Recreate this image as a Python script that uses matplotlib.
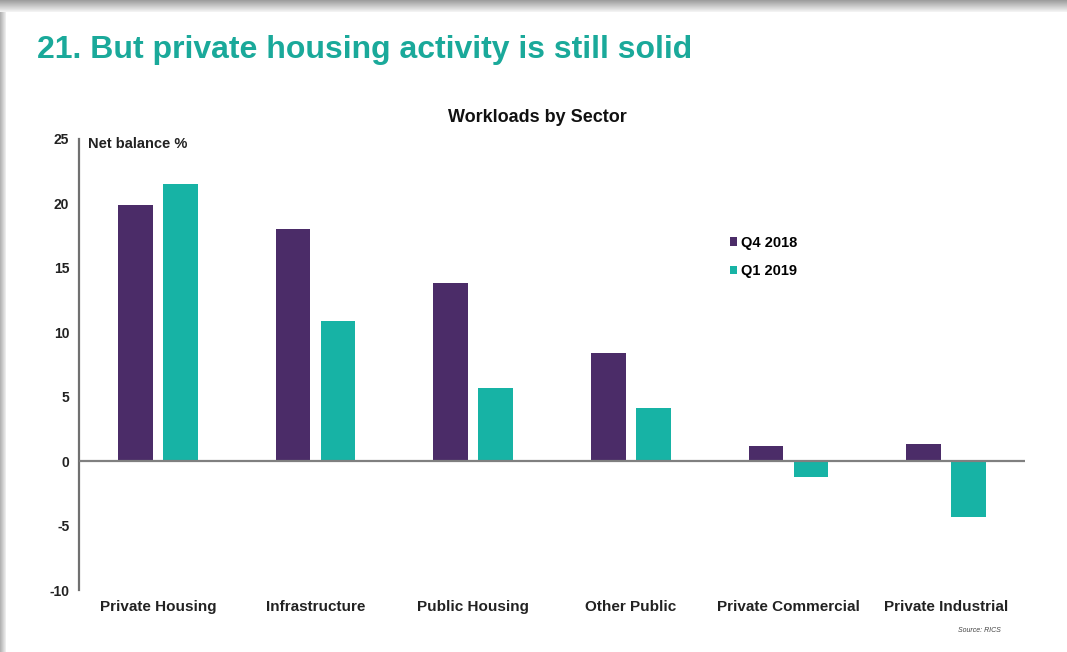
import numpy as np
import matplotlib.pyplot as plt
from matplotlib.patches import Rectangle

sectors = ['Private Housing', 'Infrastructure', 'Public Housing', 'Other Public',
           'Private Commercial', 'Private Industrial']
q4_2018 = [19.9, 18.0, 13.8, 8.4, 1.2, 1.3]
q1_2019 = [21.5, 10.9, 5.7, 4.1, -1.2, -4.3]
yticks = [-10, -5, 0, 5, 10, 15, 20, 25]

purple = '#4b2c68'
teal = '#17b3a5'

plt.rcParams['font.family'] = ['Liberation Sans', 'DejaVu Sans']

fig = plt.figure(figsize=(10.67, 6.52), dpi=100)
fig.patch.set_facecolor('white')

# slide shadow: grey band at top and thin strip on the left
for i in range(12):
    g = 0.62 + 0.03 * i
    fig.patches.append(Rectangle((0, 1 - (i + 1) / 652), 1, 1 / 652, transform=fig.transFigure,
                                 facecolor=(g, g, g), edgecolor='none', zorder=0))
for i in range(6):
    g = 0.70 + 0.045 * i
    fig.patches.append(Rectangle((i / 1067, 0), 1 / 1067, 1 - 12 / 652, transform=fig.transFigure,
                                 facecolor=(g, g, g), edgecolor='none', zorder=0))

fig.text(37 / 1067, 1 - 50 / 652, '21. But private housing activity is still solid',
         color='#1aa99a', fontsize=23, fontweight='bold', va='center', ha='left')

ax = fig.add_axes([79 / 1067, 62 / 652, (1025 - 79) / 1067, (590 - 139) / 652])
x = np.arange(len(sectors))
w = 0.22
ax.bar(x - 0.142, q4_2018, w, color=purple, label='Q4 2018', zorder=2)
ax.bar(x + 0.142, q1_2019, w, color=teal, label='Q1 2019', zorder=2)

ax.set_xlim(-0.5, len(sectors) - 0.5)
ax.set_ylim(-10, 25)
ax.axhline(0, color='#808080', lw=1.6, zorder=3)
for s in ['top', 'right', 'bottom']:
    ax.spines[s].set_visible(False)
ax.spines['left'].set_color('#707070')
ax.spines['left'].set_linewidth(1.6)

ax.set_yticks(yticks)
ax.set_yticklabels([str(v) for v in yticks], fontsize=10, fontweight='bold', color='#222222')
ax.tick_params(axis='y', length=0, pad=7)
ax.set_xticks(x)
ax.set_xticklabels(sectors, fontsize=11, fontweight='bold', color='#222222')
ax.tick_params(axis='x', length=0, pad=7)

fig.text(537 / 1067, 1 - 117 / 652, 'Workloads by Sector', fontsize=13, fontweight='bold',
         color='#111111', ha='center', va='center')
ax.text(0.01, 0.99, 'Net balance %', transform=ax.transAxes, fontsize=10.5,
        fontweight='bold', color='#222222', va='center')

leg = ax.legend(loc='upper left', bbox_to_anchor=(0.674, 0.815), frameon=False,
                handlelength=0.5, handleheight=0.5, handletextpad=0.3,
                labelspacing=1.0, prop={'weight': 'bold', 'size': 10.5})

fig.text(958 / 1067, 1 - 631 / 652, 'Source: RICS', fontsize=5, style='italic',
         color='#444444', va='center')

fig.savefig('out.png', dpi=100)
